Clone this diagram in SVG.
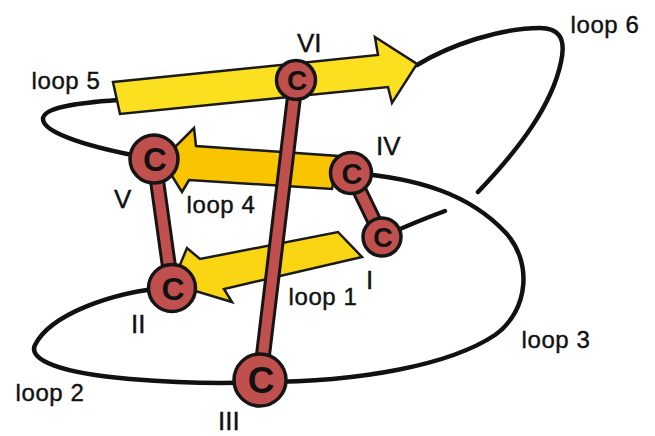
<svg xmlns="http://www.w3.org/2000/svg" width="655" height="436" viewBox="0 0 655 436">
<style>
.bg{fill:#ffffff}
.loop{fill:none;stroke:#111;stroke-width:4.5;stroke-linecap:round}
.arrow{stroke:#1a1a1a;stroke-width:2.5;stroke-linejoin:miter}
.a5{fill:#fbe01f}
.a4{fill:#f8c500}
.a1{fill:#f9d514}
.rodo{stroke:#151515;stroke-width:16;stroke-linecap:round}
.rodi{stroke:#c0504d;stroke-width:10;stroke-linecap:round}
.cys circle{fill:#c0504d;stroke:#151515;stroke-width:3.5}
.cys text{font-family:"Liberation Sans",Arial,sans-serif;font-weight:bold;fill:#111;text-anchor:middle}
.lbl{font-family:"Liberation Sans",Arial,sans-serif;font-size:24px;fill:#111;stroke:#111;stroke-width:0.4;letter-spacing:0.6px}
.rom{font-family:"Liberation Sans",Arial,sans-serif;font-size:26px;fill:#111;stroke:#111;stroke-width:0.4}
</style>
<rect class="bg" x="0" y="0" width="655" height="436"/>
<g id="connectors">
  <path id="loop2-3" class="loop" d="M172,287 C110,292 50,315 35,345 C28,360 60,373 130,379 C180,383 220,384 260,382 C360,382 450,365 495,335 C530,310 532,260 505,232 C470,195 420,178 351,173"/>
  <path id="loop5" class="loop" d="M118,100 C75,103 43,108 43,119 C43,133 90,148 154,159"/>
  <path id="loop6" class="loop" d="M478,192 C520,148 552,105 561,62 C567,35 556,28 540,28 C500,28 450,45 417,65"/>
  <path id="I-seg" class="loop" d="M382,237 Q415,222 445,211"/>
</g>
<g id="strand-loop5"><polygon class="arrow a5" points="113,82 378,55 375,37 417,64 392,103 388,87 120,114"/></g>
<g id="strand-loop4"><polygon class="arrow a4" points="338,156 332,189 189,180 182,192 162,160 194,128 196,146"/></g>
<g id="strand-loop1"><polygon class="arrow a1" points="338,232 362,257 224,289 232,302 172,284 187,248 200,259"/></g>
<g id="bonds">
  <line class="rodo" x1="296" y1="80" x2="260" y2="380"/>
  <line class="rodi" x1="296" y1="80" x2="260" y2="380"/>
  <line class="rodo" x1="154" y1="159" x2="172" y2="288"/>
  <line class="rodi" x1="154" y1="159" x2="172" y2="288"/>
  <line class="rodo" x1="351" y1="173" x2="382" y2="237"/>
  <line class="rodi" x1="351" y1="173" x2="382" y2="237"/>
</g>
<g id="cysVI" class="cys"><circle cx="296" cy="80" r="19.5"/><text x="297" y="90" font-size="28">C</text></g>
<g id="cysV" class="cys"><circle cx="154" cy="159" r="24"/><text x="155" y="171" font-size="33">C</text></g>
<g id="cysIV" class="cys"><circle cx="351" cy="173" r="20.5"/><text x="352" y="183.5" font-size="29">C</text></g>
<g id="cysI" class="cys"><circle cx="382" cy="237" r="19"/><text x="383" y="247" font-size="27">C</text></g>
<g id="cysII" class="cys"><circle cx="172" cy="288" r="23.5"/><text x="173" y="299.5" font-size="32">C</text></g>
<g id="cysIII" class="cys"><circle cx="260" cy="380" r="26"/><text x="261" y="393" font-size="37">C</text></g>
<g id="labels">
  <text class="lbl" x="31.5" y="89">loop 5</text>
  <text class="lbl" x="570.5" y="33">loop 6</text>
  <text class="lbl" x="186.5" y="213">loop 4</text>
  <text class="lbl" x="288.5" y="305">loop 1</text>
  <text class="lbl" x="15.5" y="401">loop 2</text>
  <text class="lbl" x="521.5" y="348">loop 3</text>
  <text class="rom" x="297" y="52">VI</text>
  <text class="rom" x="376" y="155">IV</text>
  <text class="rom" x="114" y="208">V</text>
  <text class="rom" x="366" y="289">I</text>
  <text class="rom" x="131" y="333">II</text>
  <text class="rom" x="218" y="430">III</text>
</g>
</svg>
